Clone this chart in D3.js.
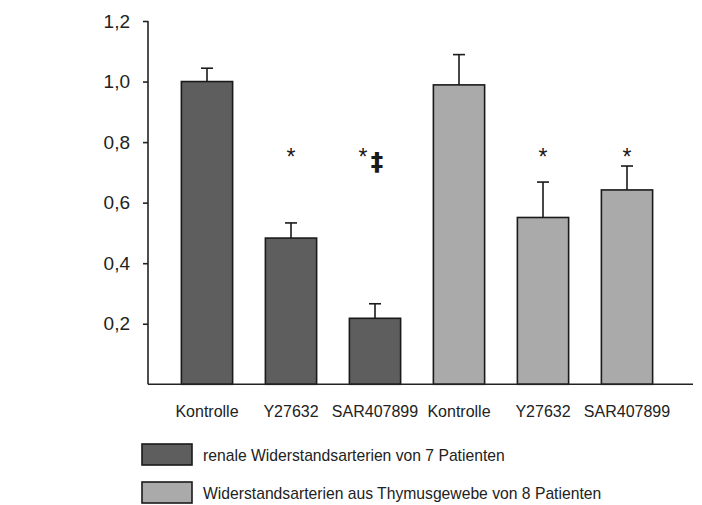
<!DOCTYPE html>
<html>
<head>
    <meta charset="utf-8">
    <title>Balkendiagramm</title>
    <script src="https://d3js.org/d3.v7.min.js"></script>
    <style>
        body { margin: 0; background: #fff; }
        text { font-family: "Liberation Sans", Arial, sans-serif; fill: #222; }
    </style>
</head>
<body>
<div id="chart"></div>
<script>
    // Daten
    let categories = ["Kontrolle", "Y27632", "SAR407899", "Kontrolle", "Y27632", "SAR407899"];
    let groups = [0, 0, 0, 1, 1, 1];
    let values = [1.0, 0.483, 0.218, 0.989, 0.551, 0.642];
    let errors = [0.044, 0.05, 0.048, 0.1, 0.117, 0.079];
    let stars = ["", "*", "*", "", "*", "*"];
    let daggers = ["", "", "‡", "", "", ""];
    let yTicks = [0.2, 0.4, 0.6, 0.8, 1.0, 1.2];
    let legendLabels = ["renale Widerstandsarterien von 7 Patienten",
                        "Widerstandsarterien aus Thymusgewebe von 8 Patienten"];
    let colors = ["#5e5e5e", "#aaaaaa"];

    let W = 702, H = 505;
    let axisX = 148, axisRight = 693;

    let svg = d3.select("#chart").append("svg")
        .attr("width", W).attr("height", H);

    let x = d3.scaleBand()
        .domain(d3.range(categories.length))
        .range([165, 669])
        .paddingInner(0.39)
        .paddingOuter(0.195);

    let y = d3.scaleLinear()
        .domain([0, 1.2])
        .range([384.3, 21]);

    let cx = i => x(i) + x.bandwidth() / 2;

    // Balken
    svg.selectAll("rect.bar")
        .data(values)
        .enter().append("rect")
        .attr("class", "bar")
        .attr("x", (d, i) => x(i))
        .attr("y", d => y(d))
        .attr("width", x.bandwidth())
        .attr("height", d => y(0) - y(d))
        .attr("fill", (d, i) => colors[groups[i]])
        .attr("stroke", "#1a1a1a")
        .attr("stroke-width", 1.6);

    // Fehlerbalken (nur nach oben)
    let err = svg.selectAll("g.err")
        .data(values)
        .enter().append("g")
        .attr("class", "err")
        .attr("stroke", "#1a1a1a")
        .attr("stroke-width", 1.6);
    err.append("line")
        .attr("x1", (d, i) => cx(i))
        .attr("x2", (d, i) => cx(i))
        .attr("y1", d => y(d))
        .attr("y2", (d, i) => y(d + errors[i]));
    err.append("line")
        .attr("x1", (d, i) => cx(i) - 6)
        .attr("x2", (d, i) => cx(i) + 6)
        .attr("y1", (d, i) => y(d + errors[i]))
        .attr("y2", (d, i) => y(d + errors[i]));

    // Signifikanz-Zeichen
    svg.selectAll("text.star")
        .data(stars)
        .enter().append("text")
        .attr("class", "star")
        .attr("x", (d, i) => cx(i) - (daggers[i] ? 12 : 0))
        .attr("y", 165)
        .attr("text-anchor", "middle")
        .attr("font-size", "23px")
        .style("fill", "#1a1a1a")
        .text(d => d);
    svg.selectAll("text.dagger")
        .data(daggers)
        .enter().append("text")
        .attr("class", "dagger")
        .attr("x", (d, i) => cx(i) + 2)
        .attr("y", 170)
        .attr("text-anchor", "middle")
        .attr("font-size", "25px")
        .attr("font-weight", "bold")
        .style("font-family", "DejaVu Sans, sans-serif")
        .style("fill", "#1a1a1a")
        .text(d => d);

    // y-Achse
    let yAxis = d3.axisLeft(y)
        .tickValues(yTicks)
        .tickSize(5)
        .tickPadding(13)
        .tickFormat(d => d3.format(".1f")(d).replace(".", ","));
    let gy = svg.append("g")
        .attr("transform", "translate(" + axisX + ",0)")
        .call(yAxis);
    gy.select(".domain").remove();
    gy.selectAll("line").attr("stroke", "#222").attr("stroke-width", 1.6);
    gy.selectAll("text").attr("font-size", "19px").style("font-family", "Liberation Sans, Arial, sans-serif").attr("fill", "#222");
    svg.append("line")
        .attr("x1", axisX).attr("x2", axisX)
        .attr("y1", y(1.2)).attr("y2", y(0))
        .attr("stroke", "#222").attr("stroke-width", 1.6);

    // x-Achse
    svg.append("line")
        .attr("x1", axisX).attr("x2", axisRight)
        .attr("y1", y(0)).attr("y2", y(0))
        .attr("stroke", "#222").attr("stroke-width", 1.6);

    svg.selectAll("text.cat")
        .data(categories)
        .enter().append("text")
        .attr("class", "cat")
        .attr("x", (d, i) => cx(i))
        .attr("y", 417)
        .attr("text-anchor", "middle")
        .attr("font-size", "16px")
        .text(d => d);

    // Legende
    let leg = svg.selectAll("g.leg")
        .data(legendLabels)
        .enter().append("g")
        .attr("class", "leg")
        .attr("transform", (d, i) => "translate(142," + (444 + i * 38) + ")");
    leg.append("rect")
        .attr("width", 50).attr("height", 21)
        .attr("fill", (d, i) => colors[i])
        .attr("stroke", "#1a1a1a").attr("stroke-width", 1.6);
    leg.append("text")
        .attr("x", 61).attr("y", 16.5)
        .attr("font-size", "15.7px")
        .text(d => d);
</script>
</body>
</html>
